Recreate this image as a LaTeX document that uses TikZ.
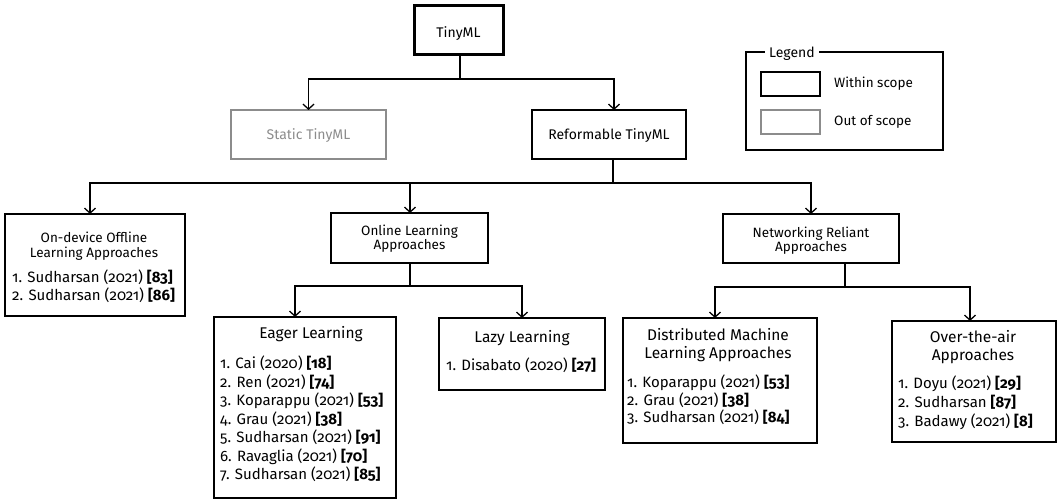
\documentclass[tikz,border=0pt]{standalone}
\usepackage{fontspec}
\setmainfont{Fira Sans}[Numbers=OldStyle]
\usetikzlibrary{arrows.meta}
\definecolor{outgray}{RGB}{140,140,140}
\begin{document}
\begin{tikzpicture}[x=1pt,y=-1pt,
  bx/.style={draw, line width=2pt, inner sep=0pt, outer sep=0pt},
  tbx/.style={bx, line width=3pt},
  gbx/.style={bx, draw=outgray},
  lgd/.style={draw, line width=1.5pt, inner sep=0pt, outer sep=0pt},
  conn/.style={line width=1.3pt},
  arr/.style={conn, -{Straight Barb[length=5pt,width=11pt]}},
  ttl/.style={font=\fontsize{13.5}{16}\selectfont, inner sep=0pt, anchor=base},
  toptxt/.style={font=\fontsize{14}{16}\selectfont, inner sep=0pt, anchor=base},
  bigttl/.style={font=\fontsize{15.5}{18}\selectfont, inner sep=0pt, anchor=base},
  item/.style={font=\fontsize{15}{18}\selectfont, inner sep=0pt, anchor=base west}]
\useasboundingbox (0,0) rectangle (1060,500);

% boxes
\node[tbx, minimum width=89pt, minimum height=49pt] (tiny) at (458.5,30.5) {};
\node[gbx, minimum width=155pt, minimum height=49pt] (static) at (308.5,134.5) {};
\node[bx, minimum width=154pt, minimum height=49pt] (reform) at (609,134.5) {};
\node[lgd, minimum width=197pt, minimum height=98pt] (legend) at (844.5,101) {};
\node[bx, minimum width=59pt, minimum height=24pt] (lin) at (790.5,84) {};
\node[gbx, minimum width=59pt, minimum height=24pt] (lout) at (790.5,122) {};
\node[bx, minimum width=180pt, minimum height=102pt] (ondev) at (95,265) {};
\node[bx, minimum width=157pt, minimum height=50pt] (online) at (409.5,238) {};
\node[bx, minimum width=176pt, minimum height=49pt] (netw) at (811,238.5) {};
\node[bx, minimum width=182pt, minimum height=181pt] (eager) at (305,407.5) {};
\node[bx, minimum width=166pt, minimum height=72pt] (lazy) at (522,354) {};
\node[bx, minimum width=194pt, minimum height=125pt] (dist) at (720,380.5) {};
\node[bx, minimum width=164pt, minimum height=121pt] (ota) at (974,381.5) {};

% connectors
\draw[conn] ([xshift=1.5pt]tiny.south) -- ++(0,24) coordinate (j0);
\draw[arr] (j0) -| (static.north);
\draw[arr] (j0) -| ([xshift=5pt]reform.north);
\draw[conn] ([xshift=4pt]reform.south) -- ++(0,24) coordinate (j1);
\draw[arr] (j1) -| ([xshift=-5pt]ondev.north);
\draw[arr] (j1) -| ([xshift=0.5pt]online.north);
\draw[arr] (j1) -| (netw.north);
\draw[conn] ([xshift=0.5pt]online.south) -- ++(0,23) coordinate (j2);
\draw[arr] (j2) -| ([xshift=-10pt]eager.north);
\draw[arr] (j2) -| (lazy.north);
\draw[conn] ([xshift=34pt]netw.south) -- ++(0,24) coordinate (j3);
\draw[arr] (j3) -| ([xshift=-5pt]dist.north);
\draw[arr] (j3) -| ([xshift=-4pt]ota.north);

% top texts
\node[toptxt] (tinyT) at (458.5,37.5) {TinyML};
\node[toptxt, text=outgray] (staticT) at (308.5,139.5) {Static TinyML};
\node[toptxt] (reformT) at (609,139.5) {Reformable TinyML};

% legend
\node[font=\fontsize{14}{16}\selectfont, fill=white, inner xsep=4pt, inner ysep=2pt, anchor=base west] (legendT) at (765,57.5) {Legend};
\node[ttl, anchor=base west] (linT) at (834,88) {Within scope};
\node[ttl, anchor=base west] (loutT) at (834,126) {Out of scope};

% on-device
\node[ttl] (ondevT1) at (94,242) {On-device Offline};
\node[ttl] (ondevT2) at (94,257) {Learning Approaches};
\foreach \t [count=\i] in {{1. Sudharsan (2021) \textbf{[83]}},{2. Sudharsan (2021) \textbf{[86]}}}
  \node[item] (ondevL\i) at (12,{282.5+(\i-1)*18}) {\t};

% online
\node[ttl] (onlineT1) at (409.5,235) {Online Learning};
\node[ttl] (onlineT2) at (409.5,249) {Approaches};

% networking
\node[ttl] (netwT1) at (811,237) {Networking Reliant};
\node[ttl] (netwT2) at (811,251) {Approaches};

% eager
\node[bigttl] (eagerT) at (311,338.5) {Eager Learning};
\foreach \t [count=\i] in {{1. Cai (2020) \textbf{[18]}},{2. Ren (2021) \textbf{[74]}},{3. Koparappu (2021) \textbf{[53]}},{4. Grau (2021) \textbf{[38]}},{5. Sudharsan (2021) \textbf{[91]}},{6. Ravaglia (2021) \textbf{[70]}},{7. Sudharsan (2021) \textbf{[85]}}}
  \node[item] (eagerL\i) at (220,{368.5+(\i-1)*18.5}) {\t};

% lazy
\node[bigttl] (lazyT) at (522,342.5) {Lazy Learning};
\node[item] (lazyL1) at (446,370.5) {1. Disabato (2020) \textbf{[27]}};

% distributed
\node[bigttl] (distT1) at (718,340.5) {Distributed Machine};
\node[bigttl] (distT2) at (718,358.5) {Learning Approaches};
\foreach \t [count=\i] in {{1. Koparappu (2021) \textbf{[53]}},{2. Grau (2021) \textbf{[38]}},{3. Sudharsan (2021) \textbf{[84]}}}
  \node[item] (distL\i) at (627,{387.5+(\i-1)*17.5}) {\t};

% over-the-air
\node[bigttl] (otaT1) at (973,342.5) {Over-the-air};
\node[bigttl] (otaT2) at (973,360.5) {Approaches};
\foreach \t [count=\i] in {{1. Doyu (2021) \textbf{[29]}},{2. Sudharsan \textbf{[87]}},{3. Badawy (2021) \textbf{[8]}}}
  \node[item] (otaL\i) at (898,{388.5+(\i-1)*19}) {\t};
\end{tikzpicture}
\end{document}
